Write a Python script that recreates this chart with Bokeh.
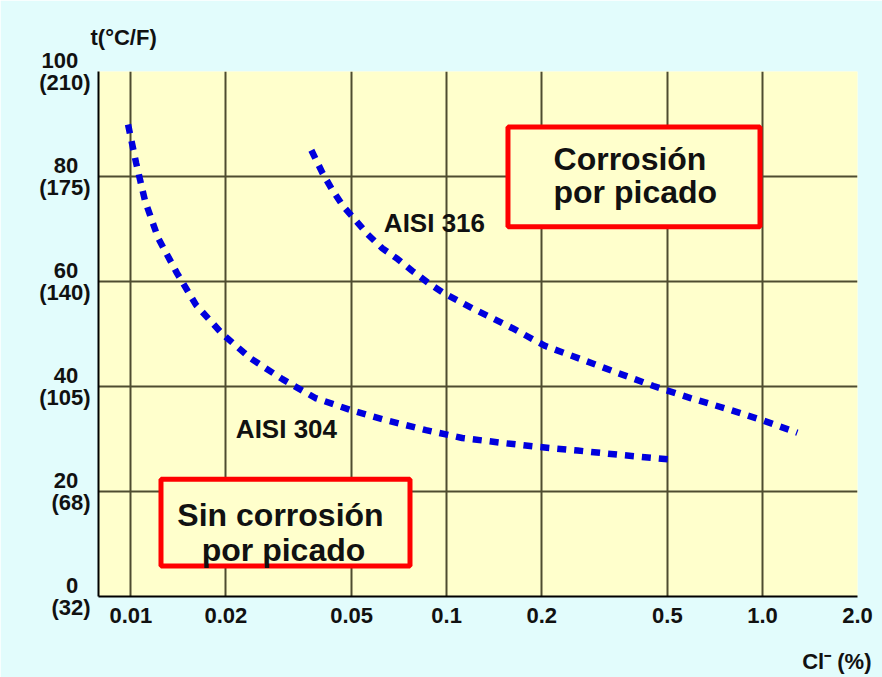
from bokeh.plotting import figure
from bokeh.models import FixedTicker, Label, BoxAnnotation, Range1d, Title
from bokeh.embed import file_html
from bokeh.resources import INLINE

# ---------------- data ----------------
x_ticks = [0.01, 0.02, 0.05, 0.1, 0.2, 0.5, 1.0, 2.0]
x_tick_labels = ["0.01", "0.02", "0.05", "0.1", "0.2", "0.5", "1.0", "2.0"]
y_ticks = [0, 20, 40, 60, 80, 100]
y_tick_labels_c = ["0", "20", "40", "60", "80", "100"]
y_tick_labels_f = ["(32)", "(68)", "(105)", "(140)", "(175)", "(210)"]

# AISI 304 curve (Cl- %, temperature °C)
x_304 = [0.0098, 0.0104, 0.0111, 0.0122, 0.0140, 0.0161, 0.0195, 0.0239, 0.0302, 0.0384,
         0.0503, 0.065, 0.086, 0.112, 0.148, 0.195, 0.26, 0.35, 0.45, 0.53]
y_304 = [89.9, 82.5, 75.3, 68.3, 61.6, 55.5, 50.0, 45.4, 41.4, 37.8,
         35.4, 33.5, 31.7, 30.2, 29.3, 28.5, 27.8, 27.0, 26.4, 26.0]

# AISI 316 curve
x_316 = [0.0373, 0.0405, 0.0435, 0.0471, 0.0514, 0.0562, 0.0626, 0.0699, 0.0779, 0.0876,
         0.0978, 0.1106, 0.1252, 0.1407, 0.1616, 0.2056, 0.2692, 0.3475, 0.4519, 0.5918,
         0.7752, 1.008, 1.29]
y_316 = [85.0, 80.6, 77.4, 74.3, 71.7, 69.0, 66.3, 64.3, 62.0, 59.7,
         57.8, 56.1, 54.4, 52.9, 51.1, 47.7, 45.1, 42.6, 40.1, 37.8,
         35.7, 33.5, 31.2]

# ---------------- styles ----------------
FONT = "Liberation Sans"
YELLOW = "#ffffcc"
CYAN = "#e2fcfc"
GRID = "#4e4c30"
BLUE = "#0000dd"
RED = "#ff0000"
TXT = "#111111"
X_START, X_END = 0.0079, 2.0
NB = "\u00a0"

p = figure(width=882, height=677, x_axis_type="log",
           x_range=Range1d(X_START, X_END), y_range=Range1d(0, 100),
           output_backend="svg", toolbar_location=None,
           min_border_left=98, min_border_right=25, min_border_top=70, min_border_bottom=81)

p.background_fill_color = YELLOW
p.border_fill_color = CYAN
p.outline_line_color = None

# y-axis title at top left
p.title.text = "t(\u00b0C/F)"
p.title.align = "left"
p.title.offset = -8
p.title.standoff = 44
p.title.text_font = FONT
p.title.text_font_style = "bold"
p.title.text_font_size = "22px"
p.title.text_color = TXT

# grids
p.xgrid.ticker = FixedTicker(ticks=x_ticks)
p.ygrid.ticker = FixedTicker(ticks=[t for t in y_ticks if 0 < t < 100])
for g in (p.xgrid, p.ygrid):
    g.grid_line_color = GRID
    g.grid_line_width = 2
    g.grid_line_alpha = 1.0

# x axis
xa = p.xaxis[0]
xa.ticker = FixedTicker(ticks=x_ticks)
xa.major_label_overrides = dict(zip(x_ticks, x_tick_labels))
xa.major_tick_out = 0
xa.major_tick_in = 0
xa.minor_tick_out = 0
xa.minor_tick_in = 0
xa.axis_line_color = "black"
xa.axis_line_width = 2
xa.major_label_standoff = 11
xa.major_label_text_font = FONT
xa.major_label_text_font_style = "bold"
xa.major_label_text_font_size = "22px"
xa.major_label_text_color = TXT

# y axis: two-line labels  "°C" over "(°F)"
ya = p.yaxis[0]
ya.ticker = FixedTicker(ticks=y_ticks)
ya.major_label_overrides = {t: c + NB + NB + "\n" + f
                            for t, c, f in zip(y_ticks, y_tick_labels_c, y_tick_labels_f)}
ya.major_tick_out = 0
ya.major_tick_in = 0
ya.minor_tick_out = 0
ya.minor_tick_in = 0
ya.axis_line_color = "black"
ya.axis_line_width = 2
ya.major_label_standoff = 8
ya.major_label_text_font = FONT
ya.major_label_text_font_style = "bold"
ya.major_label_text_font_size = "22px"
ya.major_label_text_color = TXT
try:
    ya.major_label_text_line_height = 0.86
except Exception:
    pass

# x-axis title at bottom right (with a small spacer between axis and title)
p.add_layout(Title(text=" ", text_font_size="1px", standoff=17, text_color=CYAN), "below")
p.add_layout(Title(text="Cl\u207b (%)", align="right", offset=-14, standoff=2,
                   text_font=FONT, text_font_style="bold", text_font_size="22px",
                   text_color=TXT), "below")

# curves
p.line(x_304, y_304, line_color=BLUE, line_width=6.5, line_dash="9 8")
p.line(x_316, y_316, line_color=BLUE, line_width=6.5, line_dash="9 8")

# curve labels
for x, y, txt in [(0.0311, 31.9, "AISI 304"), (0.0915, 71.1, "AISI 316")]:
    p.add_layout(Label(x=x, y=y, text=txt, text_align="center", text_baseline="middle",
                       text_font=FONT, text_font_style="bold",
                       text_font_size="26px", text_color=TXT))

# region boxes
p.add_layout(BoxAnnotation(left=0.1564, right=0.9824, bottom=70.44, top=89.45,
                           fill_color=YELLOW, fill_alpha=1.0,
                           line_color=RED, line_width=5, line_alpha=1.0))
p.add_layout(BoxAnnotation(left=0.01246, right=0.07656, bottom=5.80, top=22.34,
                           fill_color=YELLOW, fill_alpha=1.0,
                           line_color=RED, line_width=5, line_alpha=1.0))

box_text = [
    (0.218, 83.4, "Corrosi\u00f3n", "left"),
    (0.218, 77.05, "por picado", "left"),
    (0.02978, 15.53, "Sin corrosi\u00f3n", "center"),
    (0.03044, 8.94, "por picado", "center"),
]
for x, y, txt, al in box_text:
    p.add_layout(Label(x=x, y=y, text=txt, text_align=al, text_baseline="alphabetic",
                       text_font=FONT, text_font_style="bold",
                       text_font_size="32px", text_color=TXT))

open("out.html", "w").write(file_html(p, INLINE))
